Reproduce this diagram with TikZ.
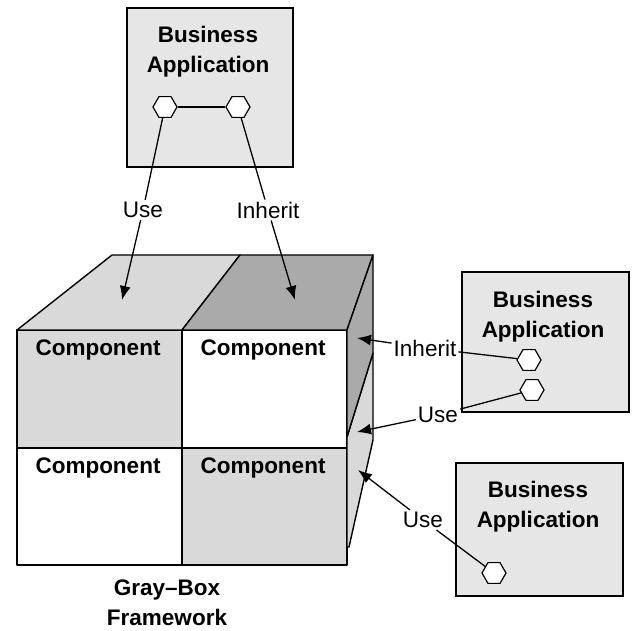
\documentclass[tikz,border=0pt]{standalone}
\usepackage{fontspec}
\setmainfont{Liberation Sans}
\usetikzlibrary{shapes.geometric,arrows.meta}
\definecolor{appgray}{HTML}{E6E6E6}
\definecolor{lightface}{HTML}{D9D9D9}
\definecolor{darkface}{HTML}{AAAAAA}
\tikzset{
	app/.style={draw,fill=appgray,line width=1.4pt,inner sep=0pt},
	port/.style={regular polygon,regular polygon sides=6,draw,fill=white,
		minimum size=24pt,inner sep=0pt,line width=1.2pt},
	title/.style={font=\fontsize{22.5}{30}\selectfont\bfseries,align=center},
	tag/.style={font=\fontsize{22.5}{26}\selectfont,inner sep=2pt},
	face/.style={draw,line width=1.4pt,line join=round},
	wire/.style={line width=1.3pt}
}
\begin{document}
\begin{tikzpicture}[x=1pt,y=-1pt,>={Latex[length=14pt,width=11pt]}]
	\useasboundingbox (0,0) rectangle (633,631);

	% the framework cube
	\filldraw[face,fill=lightface] (17,330) rectangle (182,448);
	\filldraw[face,fill=white]     (182,330) rectangle (347,448);
	\filldraw[face,fill=white]     (17,448) rectangle (182,565);
	\filldraw[face,fill=lightface] (182,448) rectangle (347,565);
	\filldraw[face,fill=lightface] (17,330) -- (112,255) -- (240,255) -- (182,330) -- cycle;
	\filldraw[face,fill=darkface]  (182,330) -- (240,255) -- (373,255) -- (347,330) -- cycle;
	\filldraw[face,fill=lightface] (347,437) -- (373,353) -- (373,440) -- (349,547) -- (347,547) -- cycle;
	\filldraw[face,fill=darkface]  (347,330) -- (373,255) -- (373,353) -- (347,437) -- cycle;

	\path
	(98,350)  node[title] (c1) {Component}
	(263,350) node[title] (c2) {Component}
	(98,468)  node[title] (c3) {Component}
	(263,468) node[title] (c4) {Component}
	(167,603) node[title] (fw) {Gray--Box\\Framework};

	% business applications
	\node[app,minimum width=166pt,minimum height=159pt] (A1) at (210,87.5) {};
	\node[title] (t1) at (208,52) {Business\\Application};
	\node[port] (p1) at (165,107) {};
	\node[port] (p2) at (238,107) {};

	\node[app,minimum width=167pt,minimum height=140pt] (A2) at (545.5,342) {};
	\node[title] (t2) at (543,317) {Business\\Application};
	\node[port] (p3) at (529,360) {};
	\node[port] (p4) at (532,390) {};

	\node[app,minimum width=167pt,minimum height=133pt] (A3) at (539.5,529.5) {};
	\node[title] (t3) at (538,507) {Business\\Application};
	\node[port] (p5) at (494,573) {};

	% labels and arrow targets
	\path
	(143,210) node[tag] (use1) {Use}
	(268,210) node[tag] (inh1) {Inherit}
	(425,348) node[tag] (inh2) {Inherit}
	(438,415) node[tag] (use2) {Use}
	(423,520) node[tag] (use3) {Use};
	\coordinate (h1) at (122,300);
	\coordinate (h2) at (295,300);
	\coordinate (h3) at (357,338);
	\coordinate (h4) at (357,432);
	\coordinate (h5) at (358,470);

	\draw[wire] (p1)--(p2);
	\draw[wire] (p1)--(use1);
	\draw[wire] (p2)--(inh1);
	\draw[wire] (p3)--(inh2);
	\draw[wire] (p4)--(use2);
	\draw[wire] (p5)--(use3);
	\draw[wire,->] (use1)--(h1);
	\draw[wire,->] (inh1)--(h2);
	\draw[wire,->] (inh2)--(h3);
	\draw[wire,->] (use2)--(h4);
	\draw[wire,->] (use3)--(h5);
\end{tikzpicture}
\end{document}
